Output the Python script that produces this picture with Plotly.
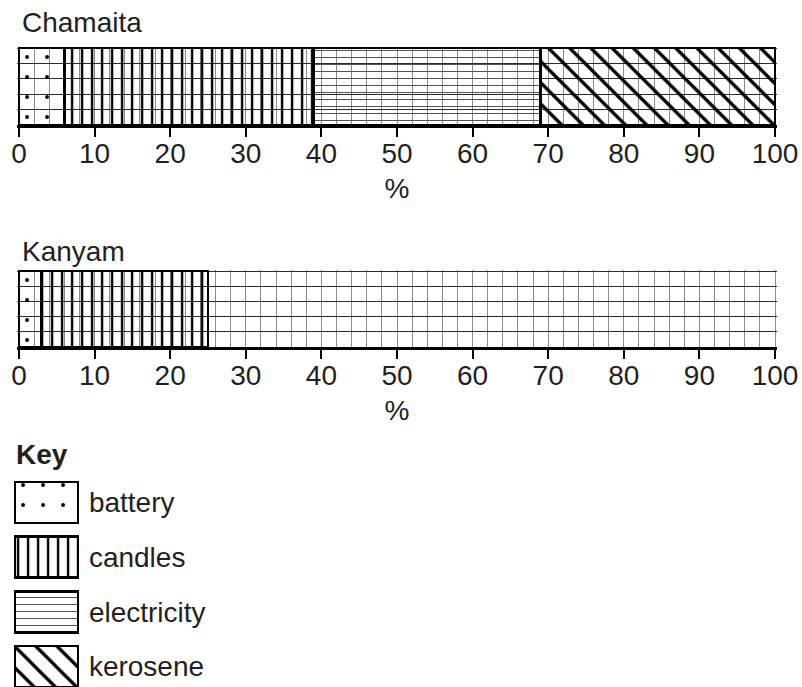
import plotly.graph_objects as go

# ---------------- data ----------------
categories = ["battery", "candles", "electricity", "kerosene"]
chamaita = [6, 33, 30, 31]          # % share, Chamaita
kanyam_known = [3, 22]              # % share shown for Kanyam (battery, candles)
x_ticks = [0, 10, 20, 30, 40, 50, 60, 70, 80, 90, 100]
bar_titles = ["Chamaita", "Kanyam"]

# ---------------- styles ----------------
FONT = "Liberation Sans, Arial, Helvetica, sans-serif"
TXT = "#231f20"
patterns = {
    "battery": dict(shape=".", size=20, solidity=0.03, fgcolor="#000"),
    "candles": dict(shape="|", size=10, solidity=0.24, fgcolor="#000"),
    "electricity": dict(shape="-", size=7, solidity=0.15, fgcolor="#555"),
    "kerosene": dict(shape="\\", size=15, solidity=0.22, fgcolor="#000"),
}

W, H = 802, 687
def px_x(p):
    return p / W
def px_y(p):
    return (H - p) / H

fig = go.Figure()

def make_pattern(cat):
    pat = dict(patterns[cat])
    pat["bgcolor"] = "rgba(0,0,0,0)"
    pat["fgopacity"] = 1
    pat["fillmode"] = "replace"
    return pat

def add_bars(values, xa, ya):
    for cat, v in zip(categories, values):
        fig.add_trace(go.Bar(
            x=[v], y=[0], orientation="h", width=1,
            marker=dict(color="rgba(255,255,255,0)",
                        line=dict(color="black", width=2.5),
                        pattern=make_pattern(cat)),
            xaxis=xa, yaxis=ya, showlegend=False, hoverinfo="skip",
        ))

add_bars(chamaita, "x", "y")
add_bars(kanyam_known, "x2", "y2")

# key
for cat in categories:
    fig.add_trace(go.Bar(
        x=[1], y=[cat], orientation="h", width=0.75,
        marker=dict(color="rgba(255,255,255,0)",
                    line=dict(color="black", width=2.5),
                    pattern=make_pattern(cat)),
        xaxis="x3", yaxis="y3", showlegend=False, hoverinfo="skip",
    ))

xdom = [px_x(17.1), px_x(776.9)]
xr = [-0.25, 100.25]

def main_x(anchor, title_standoff):
    return dict(
        domain=xdom, range=xr, anchor=anchor, fixedrange=True, automargin=False,
        tickmode="array", tickvals=x_ticks, ticks="outside", ticklen=9,
        tickwidth=2, tickcolor="black", ticklabelstandoff=-8,
        tickfont=dict(family=FONT, size=28, color=TXT),
        showline=True, linewidth=3, linecolor="black",
        showgrid=True, gridcolor="#8c8c8c", gridwidth=1,
        minor=dict(dtick=2, tick0=0, showgrid=True, gridcolor="#8c8c8c",
                   gridwidth=1, ticks=""),
        zeroline=False,
        title=dict(text="%", font=dict(family=FONT, size=28, color=TXT),
                   standoff=title_standoff),
    )

def overlay_x(over, anchor):
    return dict(
        overlaying=over, anchor=anchor, domain=xdom, range=xr, fixedrange=True,
        automargin=False,
        tickmode="array", tickvals=[0, 20, 40, 60, 80, 100],
        showticklabels=False, ticks="", showline=False, zeroline=False,
        showgrid=True, gridcolor="#222", gridwidth=1.2,
    )

def main_y(top, bottom, anchor):
    return dict(
        domain=[px_y(bottom), px_y(top)], range=[-0.5, 0.515], anchor=anchor,
        fixedrange=True, automargin=False,
        tickmode="array", tickvals=[-0.3, -0.1, 0.1, 0.3, 0.5],
        showticklabels=False, ticks="", showgrid=True, gridcolor="#2a2a2a",
        gridwidth=1, zeroline=False, showline=False,
    )

fig.update_layout(
    width=W, height=H,
    margin=dict(l=0, r=0, t=0, b=0),
    paper_bgcolor="white", plot_bgcolor="rgba(0,0,0,0)",
    barmode="stack",
    font=dict(family=FONT, color=TXT),
    xaxis=main_x("y", 11),
    yaxis=main_y(47, 125, "x"),
    xaxis2=main_x("y2", 11),
    yaxis2=main_y(270, 347, "x2"),
    xaxis4=overlay_x("x", "y"),
    xaxis5=overlay_x("x2", "y2"),
    xaxis3=dict(domain=[px_x(13.1), px_x(79.9)], range=[-0.03, 1.03],
                anchor="y3", visible=False, fixedrange=True, automargin=False),
    yaxis3=dict(domain=[0, px_y(475)], range=[3.375, -0.5], anchor="x3",
                type="category", categoryorder="array", categoryarray=categories,
                side="right", showgrid=False, ticks="", zeroline=False,
                showline=False, ticklabelstandoff=8, fixedrange=True,
                automargin=False,
                tickfont=dict(family=FONT, size=28, color=TXT)),
    annotations=[
        dict(text=bar_titles[0], xref="paper", yref="paper", x=px_x(20),
             y=px_y(22), xanchor="left", yanchor="middle", showarrow=False,
             font=dict(family=FONT, size=28, color=TXT)),
        dict(text=bar_titles[1], xref="paper", yref="paper", x=px_x(20),
             y=px_y(252), xanchor="left", yanchor="middle", showarrow=False,
             font=dict(family=FONT, size=28, color=TXT)),
        dict(text="<b>Key</b>", xref="paper", yref="paper", x=px_x(14),
             y=px_y(455), xanchor="left", yanchor="middle", showarrow=False,
             font=dict(family=FONT, size=28, color=TXT)),
    ],
)

fig.write_html(
    "out.html",
    config={"displayModeBar": False, "staticPlot": True},
    post_script="document.body.style.margin='0';document.body.style.overflow='hidden';",
)
